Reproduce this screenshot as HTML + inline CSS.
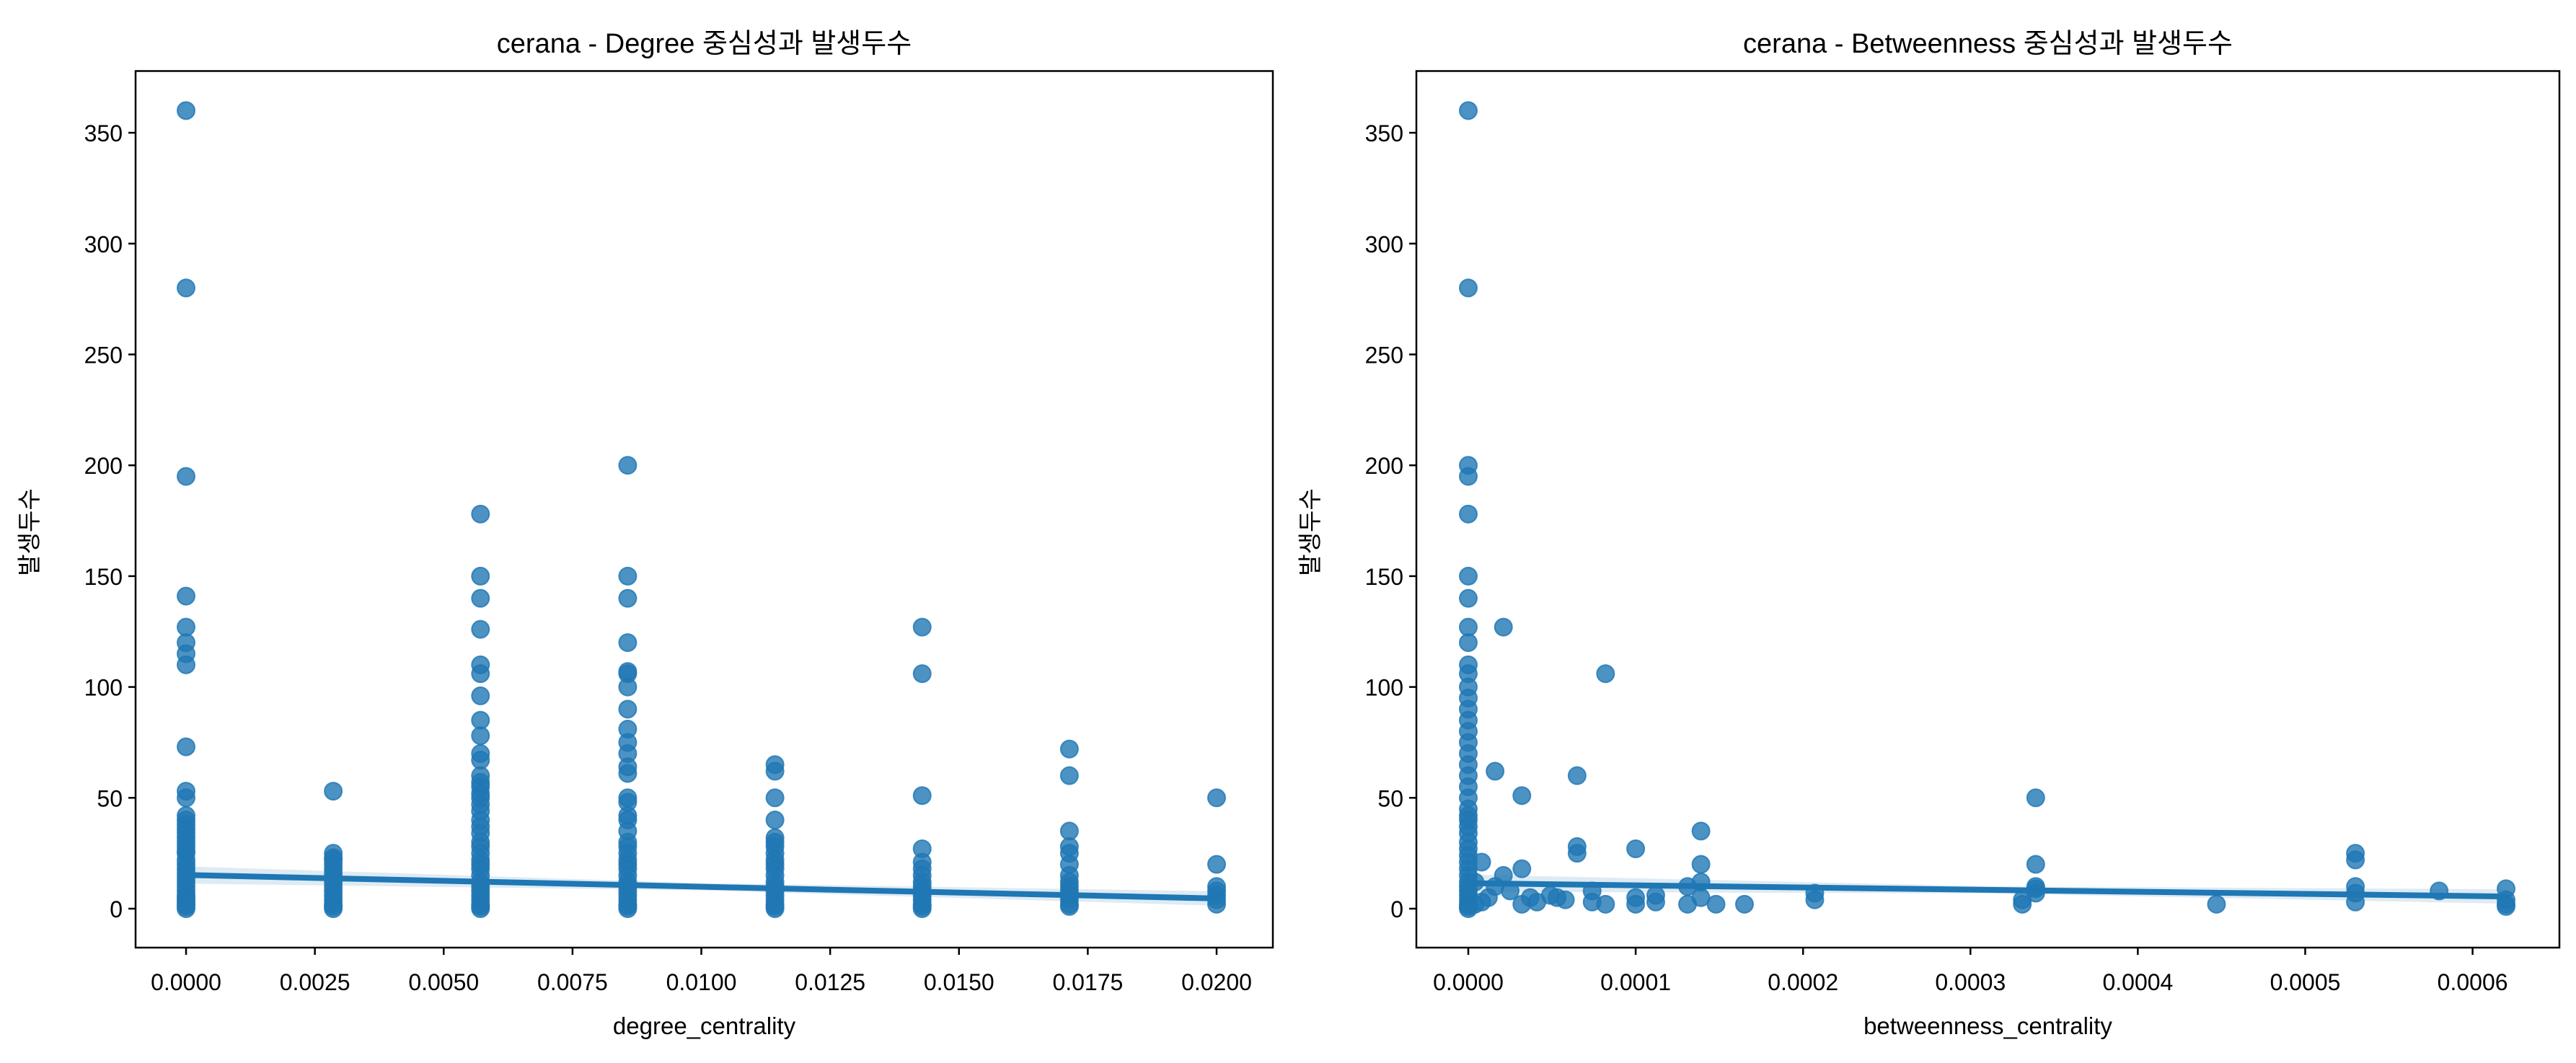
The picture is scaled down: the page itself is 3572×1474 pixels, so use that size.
<!DOCTYPE html>
<html><head><meta charset="utf-8">
<style>
html,body{margin:0;padding:0;background:#fff;}
svg{display:block;font-family:"Liberation Sans","Noto Sans CJK KR",sans-serif;}
</style></head>
<body>
<svg id="fig" width="3572" height="1474" viewBox="0 0 3572 1474"></svg>
<script>
// ---- data ----
const degCats = [0, 0.002857, 0.005714, 0.008571, 0.011429, 0.014286, 0.017143, 0.02];
const degCol0 = [360,280,195,141,127,120,115,110,73,53,50,42,40,38,36,34,32,30,28,26,25,22,20,18,16,14,12,10,8,6,5,4,3,2,1,0];
const degCol1 = [53,25,23,22,20,18,16,14,12,10,8,6,4,2,1,0];
const degCol2 = [178,150,140,126,110,106,96,85,78,70,67,60,57,55,52,50,47,44,40,37,34,30,28,25,22,20,18,15,12,10,8,6,4,2,1,0];
const degCol3 = [200,150,140,120,107,106,100,90,81,75,70,64,61,50,48,42,40,35,30,28,25,22,20,18,15,12,10,8,6,4,2,1,0];
const degCol4 = [65,62,50,40,32,30,28,25,22,20,18,15,12,10,8,6,4,2,1,0];
const degCol5 = [127,106,51,27,21,18,15,12,10,8,6,4,2,1,0];
const degCol6 = [72,60,35,28,25,20,15,12,10,8,6,4,2,1];
const degCol7 = [50,20,10,8,6,4,2];
const degFit = [15.2, 4.6];           // fitted y at x=0 and x=0.02
const betZeroCol = [360,280,200,195,178,150,140,127,120,110,106,100,95,90,85,80,75,70,65,60,55,50,45,42,40,37,34,30,27,24,21,18,15,12,10,8,6,4,2,1,0];
const betX = [0.000008,0.000016,0.000021,0.000032,0.000032,0.000065,0.000065,0.000065,0.000082,0.0001,0.000139,0.000139,0.000339,0.000339,0.000339,0.000339,0.00053,0.00053,0.00053,0.00053,0.00058,0.00062,0.00062,0.00062,0.000447,0.000331,0.000331,0.000207,0.000207,0.000165,0.000148,0.000131,0.000131,0.000112,0.000112,0.0001,0.0001,0.000082,0.000074,0.000058,0.000049,0.000041,0.000037,0.000032,0.000025,0.000021,0.000016,0.000012,0.000008,0.000004,0.000004,0.000139,0.000139,0.000053,0.000074,0.00053,0.000339,0.00062];
const betY = [21,62,127,51,18,60,28,25,106,27,35,20,50,20,10,7,25,22,10,3,8,9,2,4,2,2,4,7,4,2,2,10,2,6,3,5,2,2,8,4,6,3,5,2,8,15,10,5,3,12,2,12,5,5,3,7,9,1];
const betFit = [11.5, 5.5];           // fitted y at x=0 and x=0.00062
const yTicks = [0,50,100,150,200,250,300,350];
const degTicks = [0,0.0025,0.005,0.0075,0.01,0.0125,0.015,0.0175,0.02];
const degTickLabels = ["0.0000","0.0025","0.0050","0.0075","0.0100","0.0125","0.0150","0.0175","0.0200"];
const betTicks = [0,0.0001,0.0002,0.0003,0.0004,0.0005,0.0006];
const betTickLabels = ["0.0000","0.0001","0.0002","0.0003","0.0004","0.0005","0.0006"];

const NS = "http://www.w3.org/2000/svg";
const svg = document.getElementById('fig');
function mk(tag, attrs, parent){const e=document.createElementNS(NS,tag);for(const k in attrs)e.setAttribute(k,attrs[k]);(parent||svg).appendChild(e);return e;}

function yScale(v){return 1260 - v*3.074;}

function panel(opts){
  const g = mk('g',{});
  
  
  const xS = v => opts.x0 + v*opts.k;
  const t = mk('text',{x:(opts.L+opts.R)/2,y:73,'font-size':38,'text-anchor':'middle',fill:'#000'},g);
  t.textContent = opts.title;
  
  
  yTicks.forEach(v=>{
    const y=yScale(v);
    const tk = mk('line',{x1:opts.L-10,x2:opts.L,y1:y,y2:y,stroke:'#000','stroke-width':2.5},g);
    
    
    const lb = mk('text',{x:opts.L-18,y:y+12,'font-size':32,'text-anchor':'end',fill:'#000'},g);
    lb.textContent = v;
    
    
  });
  opts.ticks.forEach((v,i)=>{
    const x=xS(v);
    const tk = mk('line',{x1:x,x2:x,y1:1314,y2:1324,stroke:'#000','stroke-width':2.5},g);
    
    
    const lb = mk('text',{x:x,y:1373,'font-size':32,'text-anchor':'middle',fill:'#000'},g);
    lb.textContent = opts.tickLabels[i];
    
    
  });
  const xl = mk('text',{x:(opts.L+opts.R)/2,y:1434,'font-size':33,'text-anchor':'middle',fill:'#000'},g);
  xl.textContent = opts.xlabel;
  
  
  const yl = mk('text',{x:0,y:0,'font-size':33,'text-anchor':'middle',fill:'#000',transform:`translate(${opts.L-136},738) rotate(-90)`},g);
  yl.textContent = '발생두수';
  
  
  opts.pts.forEach(p=>{
    const c = mk('circle',{cx:xS(p[0]),cy:yScale(p[1]),r:12,fill:'#1f77b4','fill-opacity':0.8,stroke:'#1f77b4','stroke-opacity':0.8,'stroke-width':2},g);
    
    
  });
  const xa=xS(0), xb=xS(opts.fitX), ya=yScale(opts.fit[0]), yb=yScale(opts.fit[1]);
  const band = mk('polygon',{points:`${xa},${ya-12} ${(xa+xb)/2},${(ya+yb)/2-5} ${xb},${yb-10} ${xb},${yb+10} ${(xa+xb)/2},${(ya+yb)/2+5} ${xa},${ya+12}`,fill:'#1f77b4','fill-opacity':0.15},g);
  
  
  const ln = mk('line',{x1:xa,y1:ya,x2:xb,y2:yb,stroke:'#1f77b4','stroke-width':8},g);
  
  
  const fr = mk('rect',{x:opts.L,y:98.5,width:opts.R-opts.L,height:1314-98.5,fill:'none',stroke:'#000','stroke-width':2.5},g);
  
  
}

const degCols=[degCol0,degCol1,degCol2,degCol3,degCol4,degCol5,degCol6,degCol7];
const degPts=[];
degCols.forEach((col,i)=>col.forEach(v=>degPts.push([degCats[i],v])));
panel({name:'degree-panel',title:'cerana - Degree 중심성과 발생두수',xlabel:'degree_centrality',L:188,R:1765,x0:258,k:1429/0.02,
  ticks:degTicks,tickLabels:degTickLabels,pts:degPts,fit:degFit,fitX:0.02});

const betPts=[];
betZeroCol.forEach(v=>betPts.push([0,v]));
betX.forEach((x,i)=>betPts.push([x,betY[i]]));
panel({name:'betweenness-panel',title:'cerana - Betweenness 중심성과 발생두수',xlabel:'betweenness_centrality',L:1964,R:3549,x0:2036,k:232.1/0.0001,
  ticks:betTicks,tickLabels:betTickLabels,pts:betPts,fit:betFit,fitX:0.00062});
</script>
</body></html>
